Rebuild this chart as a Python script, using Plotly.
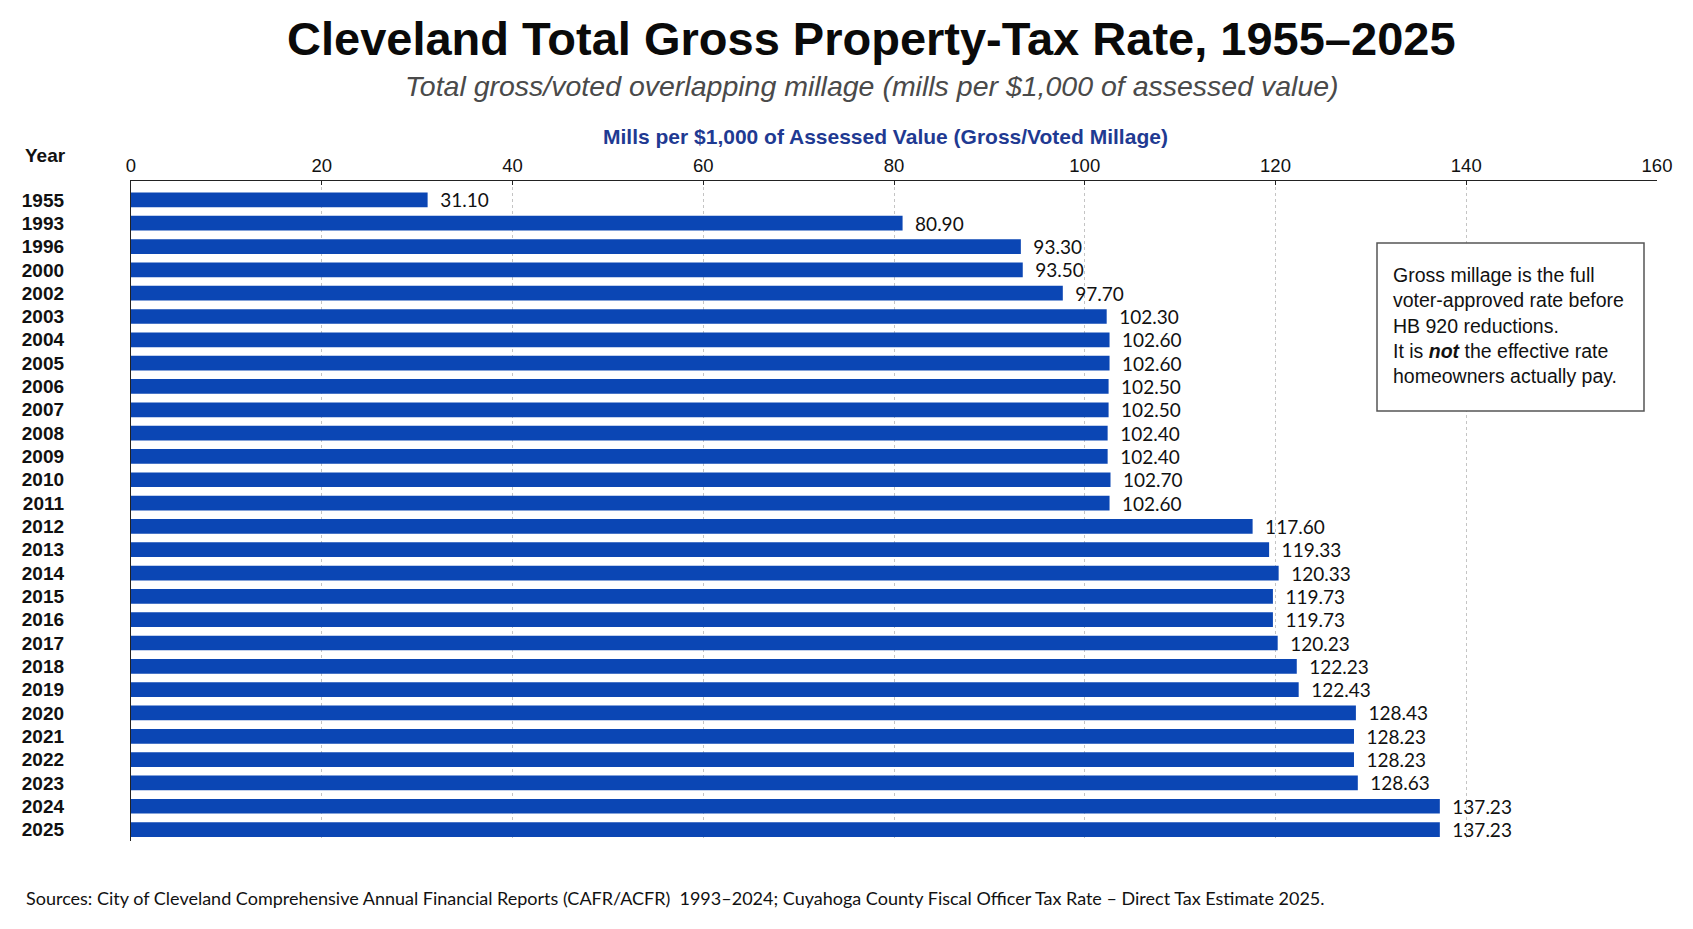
import plotly.graph_objects as go

years = ["1955", "1993", "1996", "2000", "2002", "2003", "2004", "2005", "2006", "2007",
         "2008", "2009", "2010", "2011", "2012", "2013", "2014", "2015", "2016", "2017",
         "2018", "2019", "2020", "2021", "2022", "2023", "2024", "2025"]
mills = [31.10, 80.90, 93.30, 93.50, 97.70, 102.30, 102.60, 102.60, 102.50, 102.50,
         102.40, 102.40, 102.70, 102.60, 117.60, 119.33, 120.33, 119.73, 119.73, 120.23,
         122.23, 122.43, 128.43, 128.23, 128.23, 128.63, 137.23, 137.23]
x_ticks = [0, 20, 40, 60, 80, 100, 120, 140, 160]

title_text = "Cleveland Total Gross Property-Tax Rate, 1955\u20132025"
subtitle_text = "Total gross/voted overlapping millage (mills per $1,000 of assessed value)"
axis_title_text = "Mills per $1,000 of Assessed Value (Gross/Voted Millage)"
note_text = ("Gross millage is the full<br>voter-approved rate before<br>HB 920 reductions.<br>"
             "It is <b><i>not</i></b> the effective rate<br>homeowners actually pay.")
source_text = ("Sources: City of Cleveland Comprehensive Annual Financial Reports (CAFR/ACFR)  1993\u20132024; "
               "Cuyahoga County Fiscal Officer Tax Rate \u2013 Direct Tax Estimate 2025.")

# page body adds an 8px offset; figure is sized so the plot lands where the reference has it
OFF = 8
W, H = 1693 - OFF, 929 - OFF
L, R, T, B = 131 - OFF, 36, 181 - OFF, 88
PW, PH = W - L - R, H - T - B


def px(xp):
    return (xp - 131) / PW


def py(yp):
    return (841 - yp) / PH


BAR = "#0b46b4"
NAVY = "#1f3a92"
SANS = "Liberation Sans, Arial, sans-serif"

fig = go.Figure(go.Bar(
    x=mills, y=years, orientation="h",
    marker=dict(color=BAR, line=dict(width=0)),
    width=0.63,
    text=mills, texttemplate="\u2002%{x:.2f}", textposition="outside",
    textfont=dict(family="Lato, Noto Sans, sans-serif", size=19, color="#111111"),
    constraintext="none", cliponaxis=False, hoverinfo="skip",
))

fig.update_layout(
    width=W, height=H,
    margin=dict(l=L, r=R, t=T, b=B),
    paper_bgcolor="white", plot_bgcolor="white",
    showlegend=False,
    xaxis=dict(
        side="top", range=[0, 160], tickvals=x_ticks,
        tickfont=dict(family=SANS, size=18.5, color="#111111"),
        showline=True, linecolor="#222222", linewidth=1.3,
        ticks="inside", ticklen=4, tickcolor="#222222",
        showgrid=True, gridcolor="#c4c4c4", gridwidth=1, griddash="dot",
        zeroline=False, fixedrange=True,
    ),
    yaxis=dict(
        type="category", categoryorder="array", categoryarray=years,
        range=[27.49, -0.81],
        tickfont=dict(family=SANS, size=19, color="#111111", weight="bold"),
        ticklabelstandoff=62,
        showline=True, linecolor="#222222", linewidth=1.3,
        showgrid=False, ticks="", zeroline=False, fixedrange=True,
    ),
    font=dict(family=SANS),
    shapes=[dict(
        type="rect", xref="paper", yref="paper",
        x0=px(1377), x1=px(1644), y0=py(411), y1=py(243),
        line=dict(color="#555555", width=1.5), fillcolor="white", layer="above",
    )],
)

annotations = [
    dict(text="<b>" + title_text + "</b>", x=px(871), y=py(38), xref="paper", yref="paper",
         xanchor="center", yanchor="middle", showarrow=False,
         font=dict(family=SANS, size=47, color="#0a0a0a")),
    dict(text="<i>" + subtitle_text + "</i>", x=px(872), y=py(86), xref="paper", yref="paper",
         xanchor="center", yanchor="middle", showarrow=False,
         font=dict(family=SANS, size=28.5, color="#4a4a4a")),
    dict(text="<b>" + axis_title_text + "</b>", x=px(885), y=py(136), xref="paper", yref="paper",
         xanchor="center", yanchor="middle", showarrow=False,
         font=dict(family=SANS, size=21, color=NAVY)),
    dict(text="<b>Year</b>", x=px(23), y=py(155), xref="paper", yref="paper",
         xanchor="left", yanchor="middle", showarrow=False,
         font=dict(family=SANS, size=19, color="#111111")),
    dict(text=note_text, x=px(1391), y=py(325), xref="paper", yref="paper",
         xanchor="left", yanchor="middle", align="left", showarrow=False,
         font=dict(family=SANS, size=19.5, color="#111111")),
    dict(text=source_text, x=px(24), y=py(898), xref="paper", yref="paper",
         xanchor="left", yanchor="middle", showarrow=False,
         font=dict(family="Lato, Open Sans, sans-serif", size=18, color="#111111")),
]
fig.update_layout(annotations=annotations)

fig.write_html("out.html")
